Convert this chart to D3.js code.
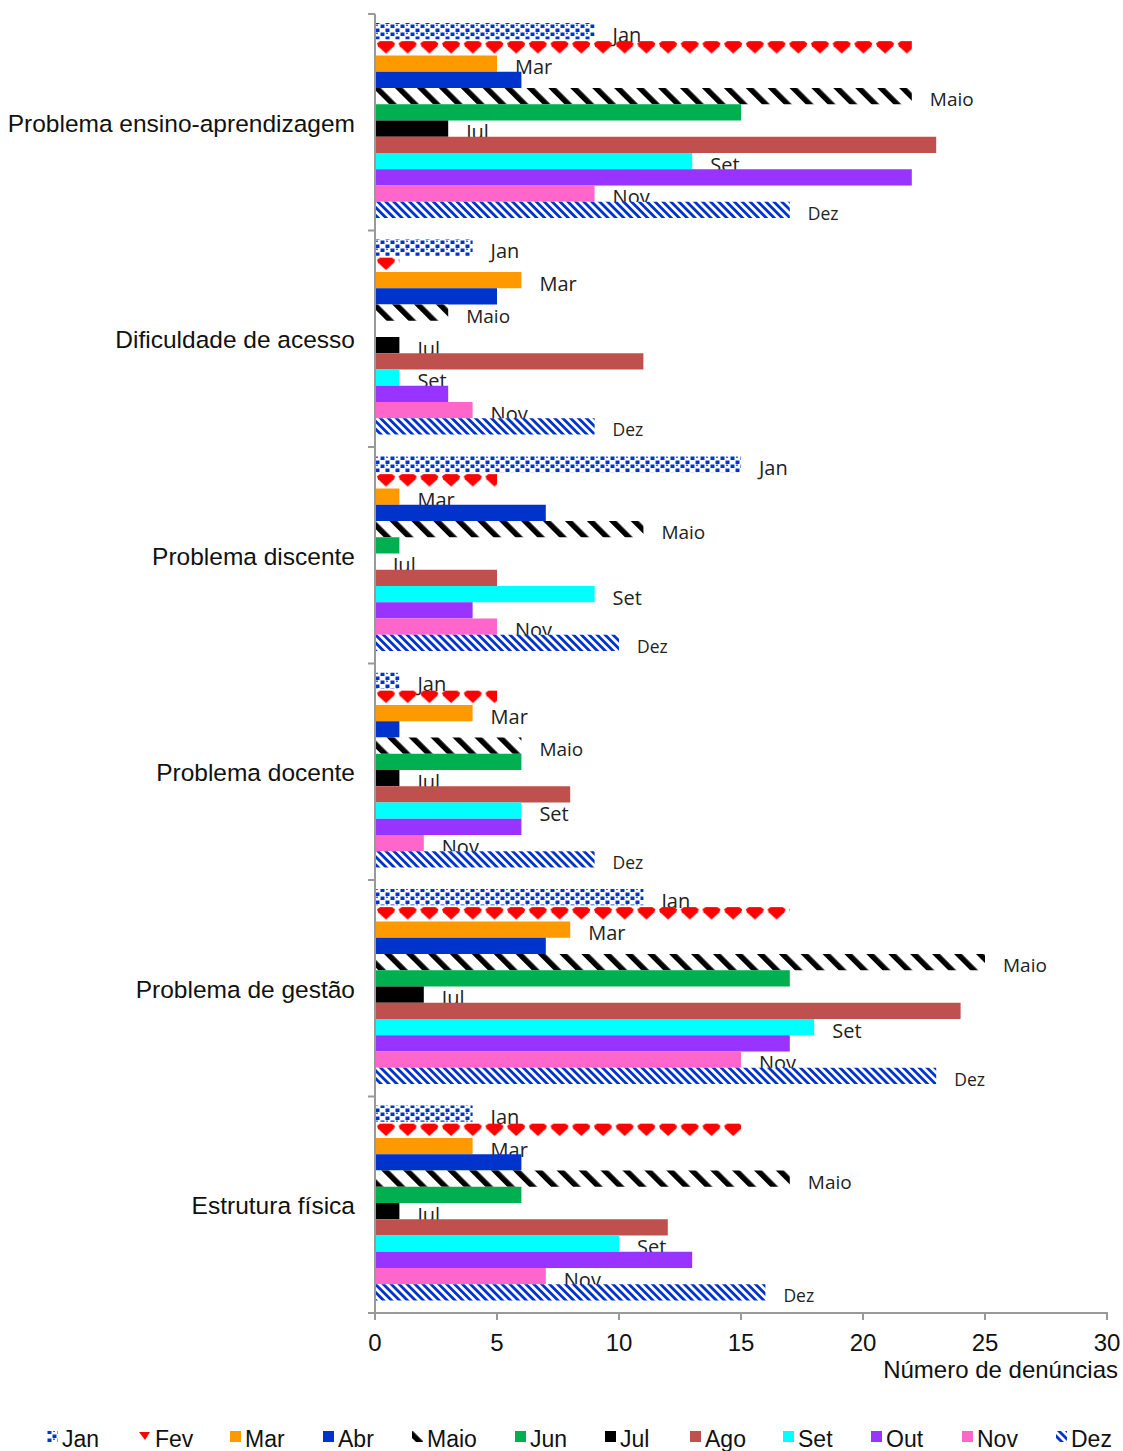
<!DOCTYPE html>
<html><head><meta charset="utf-8">
<script src="https://cdn.jsdelivr.net/npm/d3@7"></script>
<style>body{margin:0;background:#fff}</style>
</head><body>
<svg id="c" width="1123" height="1451"></svg>
<script>
const categories = ["Problema ensino-aprendizagem","Dificuldade de acesso","Problema discente","Problema docente","Problema de gestão","Estrutura física"];
const months = ["Jan","Fev","Mar","Abr","Maio","Jun","Jul","Ago","Set","Out","Nov","Dez"];
const labelledMonths = ["Jan","Mar","Maio","Jul","Set","Nov","Dez"];
const jan  = [9, 4, 15, 1, 11, 4];
const fev  = [22, 1, 5, 5, 17, 15];
const mar  = [5, 6, 1, 4, 8, 4];
const abr  = [6, 5, 7, 1, 7, 6];
const maio = [22, 3, 11, 6, 25, 17];
const jun  = [15, 0, 1, 6, 17, 6];
const jul  = [3, 1, 0, 1, 2, 1];
const ago  = [23, 11, 5, 8, 24, 12];
const set  = [13, 1, 9, 6, 18, 10];
const out  = [22, 3, 4, 6, 17, 13];
const nov  = [9, 4, 5, 2, 15, 7];
const dez  = [17, 9, 10, 9, 23, 16];
const xTicks = [0,5,10,15,20,25,30];
const axisTitle = "Número de denúncias";

const series = [jan,fev,mar,abr,maio,jun,jul,ago,set,out,nov,dez];
const fills = {Jan:"url(#pJan)",Fev:"red",Mar:"#FF9900",Abr:"#0033CC",Maio:"url(#pMaio)",Jun:"#00B050",Jul:"#000000",Ago:"#C0504D",Set:"#00FFFF",Out:"#9933FF",Nov:"#FF66CC",Dez:"url(#pDez)"};

const svg = d3.select("#c");
const defs = svg.append("defs");

// Jan pattern: blue confetti squares
const pj = defs.append("pattern").attr("id","pJan").attr("patternUnits","userSpaceOnUse").attr("width",10).attr("height",8);
pj.append("rect").attr("x",0.5).attr("y",0.5).attr("width",4).attr("height",3.5).attr("fill","#0033CC");
pj.append("rect").attr("x",5.5).attr("y",4.5).attr("width",4).attr("height",3.5).attr("fill","#0033CC");
pj.append("rect").attr("x",6).attr("y",0.5).attr("width",2).attr("height",1.5).attr("fill","#3366DD");
// Maio pattern: wide black diagonal stripes
const pm = defs.append("pattern").attr("id","pMaio").attr("patternUnits","userSpaceOnUse").attr("width",15.5).attr("height",15.5).attr("patternTransform","rotate(-45)");
pm.append("rect").attr("width",15.5).attr("height",15.5).attr("fill","#fff");
pm.append("rect").attr("width",5.5).attr("height",15.5).attr("fill","#000");
// Dez pattern: narrow blue stripes
const pd = defs.append("pattern").attr("id","pDez").attr("patternUnits","userSpaceOnUse").attr("width",5.6).attr("height",5.6).attr("patternTransform","rotate(-45)");
pd.append("rect").attr("width",5.6).attr("height",5.6).attr("fill","#fff");
pd.append("rect").attr("width",2.8).attr("height",5.6).attr("fill","#0033CC");

const x = d3.scaleLinear().domain([0,30]).range([375,1107]);
const y = d3.scaleBand().domain(categories).range([14,1313]).padding(0);
const gh = y.bandwidth();
const yi = d3.scaleBand().domain(months).range([9, gh-12.5]).padding(0);
const bh = yi.bandwidth();

// Fev patterns per bar (aligned to bar top)
function fevPattern(id, y0){
  const p = defs.append("pattern").attr("id",id).attr("patternUnits","userSpaceOnUse")
    .attr("x",x(0)).attr("y",y0).attr("width",21.7).attr("height",bh);
  p.append("path").attr("d",`M2,4 L5,2 L17,2 L20,4 L19,7 L11,${bh-2} L3,7 Z`).attr("fill","red");
  return `url(#${id})`;
}

const plot = svg.append("g");
months.forEach((m, mi) => {
  const vals = series[mi];
  categories.forEach((c, ci) => {
    const by = y(c) + yi(m);
    const w = x(vals[ci]) - x(0);
    if (w > 0) {
      const f = m === "Fev" ? fevPattern(`pFev${ci}`, by) : fills[m];
      plot.append("rect").attr("x",x(0)).attr("y",by).attr("width",w).attr("height",bh).attr("fill",f);
    }
    if (labelledMonths.includes(m)) {
      const fs = m === "Maio" ? 19 : (m === "Dez" ? 17.5 : 20);
      plot.append("text").attr("x",x(vals[ci])+18).attr("y",by+bh/2+3)
        .attr("dominant-baseline","central")
        .attr("font-family","'Open Sans', sans-serif")
        .attr("font-size", fs)
        .attr("fill","#222").text(m);
    }
  });
});

// axes
const axisColor = "#999";
svg.append("line").attr("x1",x(0)).attr("x2",x(0)).attr("y1",14).attr("y2",1313).attr("stroke",axisColor).attr("stroke-width",2);
svg.append("line").attr("x1",x(0)-5).attr("x2",x(30)+1).attr("y1",1313).attr("y2",1313).attr("stroke",axisColor).attr("stroke-width",2);
const bounds = categories.map(c=>y(c)).concat([1313]);
bounds.forEach(b => svg.append("line").attr("x1",x(0)-7).attr("x2",x(0)).attr("y1",b).attr("y2",b).attr("stroke",axisColor).attr("stroke-width",2));
xTicks.forEach(t => {
  svg.append("line").attr("x1",x(t)).attr("x2",x(t)).attr("y1",1313).attr("y2",1320).attr("stroke",axisColor).attr("stroke-width",2);
  svg.append("text").attr("x",x(t)).attr("y",1351).attr("text-anchor","middle")
    .attr("font-family","'Liberation Sans Narrow','Liberation Sans',sans-serif").attr("font-size",24).attr("fill","#111").text(t);
});
svg.append("text").attr("x",1118).attr("y",1378).attr("text-anchor","end")
  .attr("font-family","'Liberation Sans Narrow','Liberation Sans',sans-serif").attr("font-size",24).attr("fill","#111").text(axisTitle);

categories.forEach(c => {
  svg.append("text").attr("x",355).attr("y",y(c)+gh/2+1).attr("text-anchor","end").attr("dominant-baseline","central")
    .attr("font-family","'Liberation Sans',Arial,sans-serif").attr("font-size",24.5).attr("fill","#111").text(c);
});

// legend
const legX = [47,140,230,323,412,515,605,690,783,871,962,1056];
months.forEach((m, i) => {
  const g = svg.append("g").attr("transform",`translate(${legX[i]},1438)`);
  let f = fills[m];
  if (m === "Fev") {
    g.append("path").attr("d","M-1,-6 L10,-6 L5,2 Z").attr("fill","red");
  } else {
    g.append("rect").attr("x",0).attr("y",-7).attr("width",11).attr("height",11).attr("fill",f);
  }
  g.append("text").attr("x",15).attr("y",1).attr("dominant-baseline","central")
    .attr("font-family","'Liberation Sans',Arial,sans-serif").attr("font-size",23).attr("fill","#111").text(m);
});
</script>
</body></html>
